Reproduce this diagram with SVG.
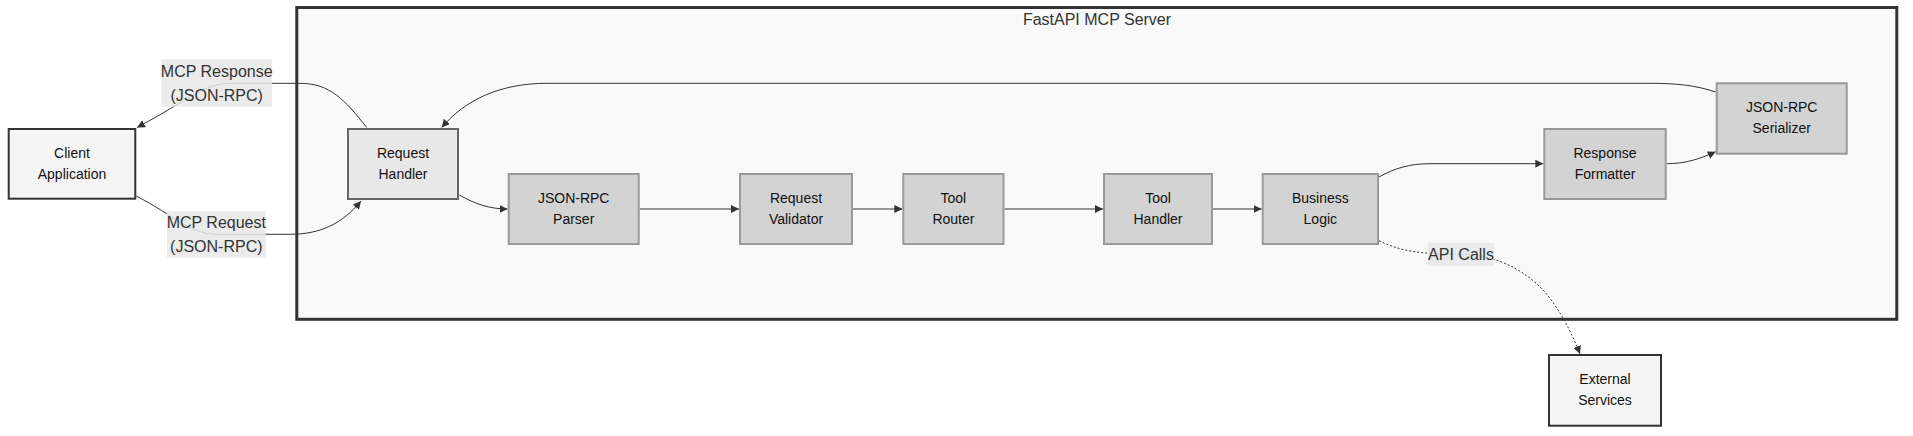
<svg xmlns="http://www.w3.org/2000/svg" width="1913" height="436" viewBox="0 0 1913 436">
<style>
.n rect{stroke-width:2}
.ext rect{fill:#f5f5f5;stroke:#333}
.rh rect{fill:#e8e8e8;stroke:#666}
.int rect{fill:#d3d3d3;stroke:#999}
.n text{font-family:"Liberation Sans",Arial,sans-serif;font-size:14px;fill:#111;text-anchor:middle}
.e{fill:none;stroke:#333;stroke-width:1}
.dot{stroke-dasharray:2,2}
.lbl rect{fill:#e8e8e8;fill-opacity:0.85}
.lbl text{font-family:"Liberation Sans",Arial,sans-serif;font-size:16px;fill:#333;text-anchor:middle}
</style>
<defs>
<marker id="ah" viewBox="0 0 10 10" refX="10" refY="5" markerWidth="8" markerHeight="8" markerUnits="userSpaceOnUse" orient="auto">
<path d="M0,0 L10,5 L0,10 z" fill="#333"/>
</marker>
</defs>
<rect width="1913" height="436" fill="#ffffff"/>
<g id="cluster-server">
<rect x="296.8" y="7.5" width="1600" height="311.8" fill="#f9f9f9" stroke="#333" stroke-width="3"/>
<text x="1097" y="25" font-family="Liberation Sans, Arial, sans-serif" font-size="16" fill="#333" text-anchor="middle">FastAPI MCP Server</text>
</g>
<g id="connectors">
<path class="e" d="M136.3,196 C175,216 190,234.3 217,234.3 L290,234.3 C320,234.3 342,224 361,201" marker-end="url(#ah)"/>
<path class="e" d="M366.7,127.5 C345,100 330,83.3 300,83.3 L230,83.3 C205,83.3 190,99 137,127.5" marker-end="url(#ah)"/>
<path class="e" d="M459.3,195 C475,204 490,209 507.5,209" marker-end="url(#ah)"/>
<path class="e" d="M639.7,209 L739,209" marker-end="url(#ah)"/>
<path class="e" d="M853,209 L902.3,209" marker-end="url(#ah)"/>
<path class="e" d="M1004.5,209 L1103,209" marker-end="url(#ah)"/>
<path class="e" d="M1213,209 L1261.7,209" marker-end="url(#ah)"/>
<path class="e" d="M1379,177 C1395,168 1410,163.7 1430,163.7 L1543.3,163.7" marker-end="url(#ah)"/>
<path class="e" d="M1666.7,163.7 C1685,163.7 1700,159 1715.7,151.7" marker-end="url(#ah)"/>
<path class="e" d="M1715.7,92 C1695,85 1675,83.3 1650,83.3 L547,83.3 C500,83.3 465,100 441.7,127.5" marker-end="url(#ah)"/>
<path class="e dot" d="M1379,240.7 C1400,251 1420,254.3 1461,254.3 C1495,254.3 1525,270 1545,292 C1560,310 1572,333 1580,354" marker-end="url(#ah)"/>
<g class="lbl" id="label-response">
<rect x="161.3" y="59.3" width="110.7" height="47.4"/>
<text x="216.7" y="76.5">MCP Response</text>
<text x="216.7" y="100.5">(JSON-RPC)</text>
</g>
<g class="lbl" id="label-request">
<rect x="167" y="211" width="98.7" height="46.7"/>
<text x="216.3" y="227.8">MCP Request</text>
<text x="216.3" y="251.8">(JSON-RPC)</text>
</g>
<g class="lbl" id="label-api">
<rect x="1428" y="242.7" width="66" height="23.3"/>
<text x="1461" y="260">API Calls</text>
</g>
</g>
<g id="client" class="n ext">
<rect x="8.7" y="129" width="126.6" height="69.7"/>
<text x="72" y="157.5">Client</text>
<text x="72" y="178.5">Application</text>
</g>
<g id="request-handler" class="n rh">
<rect x="348" y="129" width="110" height="70"/>
<text x="403" y="157.5">Request</text>
<text x="403" y="178.5">Handler</text>
</g>
<g id="jsonrpc-parser" class="n int">
<rect x="508.7" y="174" width="130" height="70"/>
<text x="573.7" y="202.5">JSON-RPC</text>
<text x="573.7" y="223.5">Parser</text>
</g>
<g id="request-validator" class="n int">
<rect x="740" y="174" width="112" height="70"/>
<text x="796" y="202.5">Request</text>
<text x="796" y="223.5">Validator</text>
</g>
<g id="tool-router" class="n int">
<rect x="903.3" y="174" width="100.2" height="70"/>
<text x="953.4" y="202.5">Tool</text>
<text x="953.4" y="223.5">Router</text>
</g>
<g id="tool-handler" class="n int">
<rect x="1104" y="174" width="108" height="70"/>
<text x="1158" y="202.5">Tool</text>
<text x="1158" y="223.5">Handler</text>
</g>
<g id="business-logic" class="n int">
<rect x="1262.7" y="174" width="115.3" height="70"/>
<text x="1320.3" y="202.5">Business</text>
<text x="1320.3" y="223.5">Logic</text>
</g>
<g id="response-formatter" class="n int">
<rect x="1544.3" y="129" width="121.4" height="70"/>
<text x="1605" y="157.5">Response</text>
<text x="1605" y="178.5">Formatter</text>
</g>
<g id="jsonrpc-serializer" class="n int">
<rect x="1716.7" y="83.3" width="130" height="70.4"/>
<text x="1781.7" y="112">JSON-RPC</text>
<text x="1781.7" y="133">Serializer</text>
</g>
<g id="external-services" class="n ext">
<rect x="1549" y="355" width="112" height="70.7"/>
<text x="1605" y="383.5">External</text>
<text x="1605" y="404.5">Services</text>
</g>
</svg>
